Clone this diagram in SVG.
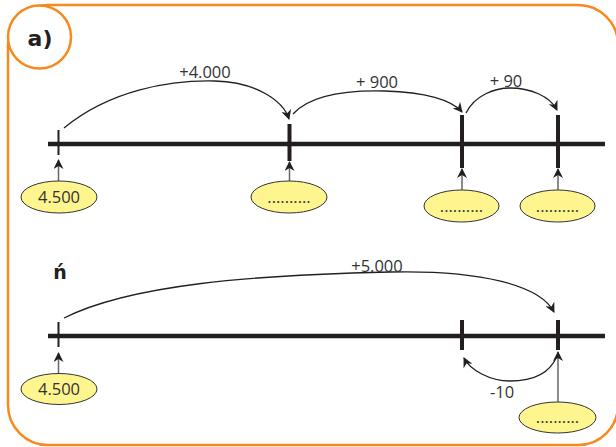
<svg xmlns="http://www.w3.org/2000/svg" width="616" height="447" viewBox="0 0 616 447">
<defs>
<style>
.frame{fill:none;stroke:#F7891F;stroke-width:2.5}
.axis{stroke:#231F20;stroke-width:4.5;fill:none}
.tick{stroke:#231F20;stroke-width:4;fill:none}
.thin{stroke:#231F20;stroke-width:2;fill:none}
.arc{stroke:#231F20;stroke-width:1.3;fill:none}
.ptr{stroke:#666;stroke-width:1.5;fill:none}
.bub{fill:#FFF58F;stroke:#333;stroke-width:1}
.t{font-family:"Open Sans","Liberation Sans",sans-serif;font-size:16.5px;fill:#333}
.b{font-family:"DejaVu Sans","Liberation Sans",sans-serif;font-weight:bold;fill:#231F20}
</style>
<marker id="ah" viewBox="0 0 10 10" refX="9" refY="5" markerWidth="10" markerHeight="10" markerUnits="userSpaceOnUse" orient="auto">
<path d="M0,0 L10,5 L0,10 L3,5 z" fill="#231F20"/>
</marker>
</defs>
<rect class="frame" x="8" y="5" width="610" height="440" rx="40"/>
<g id="label-a">
<circle cx="39.5" cy="37" r="31.5" fill="#fff" stroke="#F7891F" stroke-width="2.5"/>
<text class="b" x="40" y="46" font-size="22" text-anchor="middle">a)</text>
</g>
<g id="label-n">
<text class="b" x="60" y="279" font-size="19" text-anchor="middle">ń</text>
</g>
<g id="line1">
<line class="axis" x1="48" y1="144" x2="605" y2="144"/>
<line class="thin" x1="58.5" y1="130" x2="58.5" y2="155"/>
<line class="tick" x1="289.5" y1="124" x2="289.5" y2="161"/>
<line class="tick" x1="462" y1="115" x2="462" y2="168"/>
<line class="tick" x1="558" y1="115" x2="558" y2="168"/>
</g>
<g id="line2">
<line class="axis" x1="48" y1="336" x2="605" y2="336"/>
<line class="thin" x1="58.5" y1="322" x2="58.5" y2="347"/>
<line class="tick" x1="462" y1="320" x2="462" y2="350"/>
<line class="tick" x1="558" y1="320" x2="558" y2="350"/>
</g>
<g id="connectors">
<path class="arc" d="M64,128 C110,90 170,80 215,81 C255,82 283,100 289,119" marker-end="url(#ah)"/>
<path class="arc" d="M293,114 C310,95 345,90 385,91 C425,92 452,100 462,112" marker-end="url(#ah)"/>
<path class="arc" d="M466,113 C475,95 495,88 510,88 C530,88 550,96 557,110" marker-end="url(#ah)"/>
<path class="arc" d="M64,318 C130,285 250,275 390,272 C480,270 540,285 554,312" marker-end="url(#ah)"/>
<path class="arc" d="M557,356 C548,378 525,381 510,381 C490,381 470,370 464,358" marker-end="url(#ah)"/>
<line class="ptr" x1="58.5" y1="181" x2="58.5" y2="160" marker-end="url(#ah)"/>
<line class="ptr" x1="289.5" y1="182" x2="289.5" y2="162" marker-end="url(#ah)"/>
<line class="ptr" x1="462" y1="190" x2="462" y2="169" marker-end="url(#ah)"/>
<line class="ptr" x1="558" y1="190" x2="558" y2="169" marker-end="url(#ah)"/>
<line class="ptr" x1="58.5" y1="373" x2="58.5" y2="353" marker-end="url(#ah)"/>
<line class="ptr" x1="558" y1="402" x2="558" y2="352" marker-end="url(#ah)"/>
</g>
<g id="labels">
<text class="t" x="205" y="78" text-anchor="middle">+4.000</text>
<text class="t" x="377" y="88" text-anchor="middle">+ 900</text>
<text class="t" x="506" y="87" text-anchor="middle">+ 90</text>
<text class="t" x="377" y="272" text-anchor="middle">+5.000</text>
<text class="t" x="502" y="398" text-anchor="middle">-10</text>
</g>
<g id="bubble1">
<ellipse class="bub" cx="59" cy="197" rx="38" ry="16"/>
<text class="t" x="59" y="203" text-anchor="middle">4.500</text>
</g>
<g id="bubble2">
<ellipse class="bub" cx="289" cy="197" rx="38" ry="16"/>
<text class="t" x="289" y="203" text-anchor="middle">..........</text>
</g>
<g id="bubble3">
<ellipse class="bub" cx="461.5" cy="206" rx="37.5" ry="16"/>
<text class="t" x="461.5" y="212" text-anchor="middle">..........</text>
</g>
<g id="bubble4">
<ellipse class="bub" cx="557.5" cy="206" rx="37.5" ry="16"/>
<text class="t" x="557.5" y="212" text-anchor="middle">..........</text>
</g>
<g id="bubble5">
<ellipse class="bub" cx="59" cy="389" rx="38" ry="15.5"/>
<text class="t" x="59" y="395" text-anchor="middle">4.500</text>
</g>
<g id="bubble6">
<ellipse class="bub" cx="557.5" cy="417.5" rx="38.5" ry="15.5"/>
<text class="t" x="557.5" y="423" text-anchor="middle">..........</text>
</g>
</svg>
